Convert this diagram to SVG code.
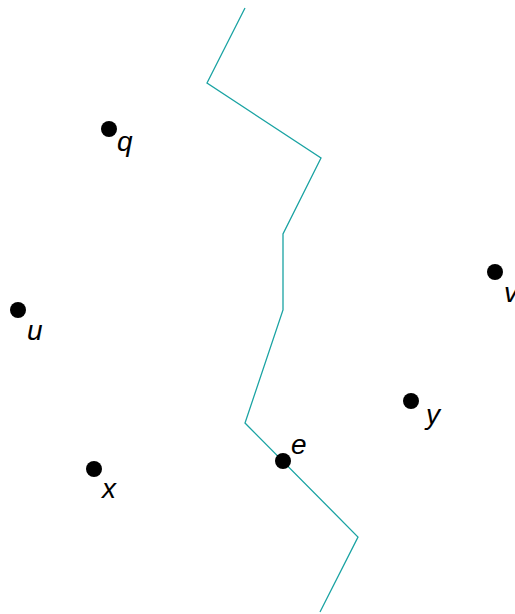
<svg xmlns="http://www.w3.org/2000/svg" width="515" height="614" viewBox="0 0 515 614">
<style>
.pt{fill:#000}
.lbl{font-family:"Liberation Sans",Arial,sans-serif;font-style:italic;font-size:28px;fill:#000}
.ln{fill:none;stroke:#1aa3a3;stroke-width:1.3}
</style>
<rect width="515" height="614" fill="#fff"/>
<g id="connectors">
<polyline class="ln" points="245,8 207,83 321,158 283,234 283,310 245,423 358,537 320,612"/>
</g>
<g id="q"><circle class="pt" cx="109" cy="129" r="8"/><text class="lbl" x="117" y="151">q</text></g>
<g id="u"><circle class="pt" cx="18" cy="310" r="8"/><text class="lbl" x="27" y="340">u</text></g>
<g id="x"><circle class="pt" cx="94" cy="469" r="8"/><text class="lbl" x="102" y="498">x</text></g>
<g id="v"><circle class="pt" cx="495" cy="272" r="8"/><text class="lbl" x="504" y="302">v</text></g>
<g id="y"><circle class="pt" cx="411" cy="401" r="8"/><text class="lbl" x="426" y="424">y</text></g>
<g id="e"><circle class="pt" cx="283" cy="461" r="8"/><text class="lbl" x="291" y="454">e</text></g>
</svg>
